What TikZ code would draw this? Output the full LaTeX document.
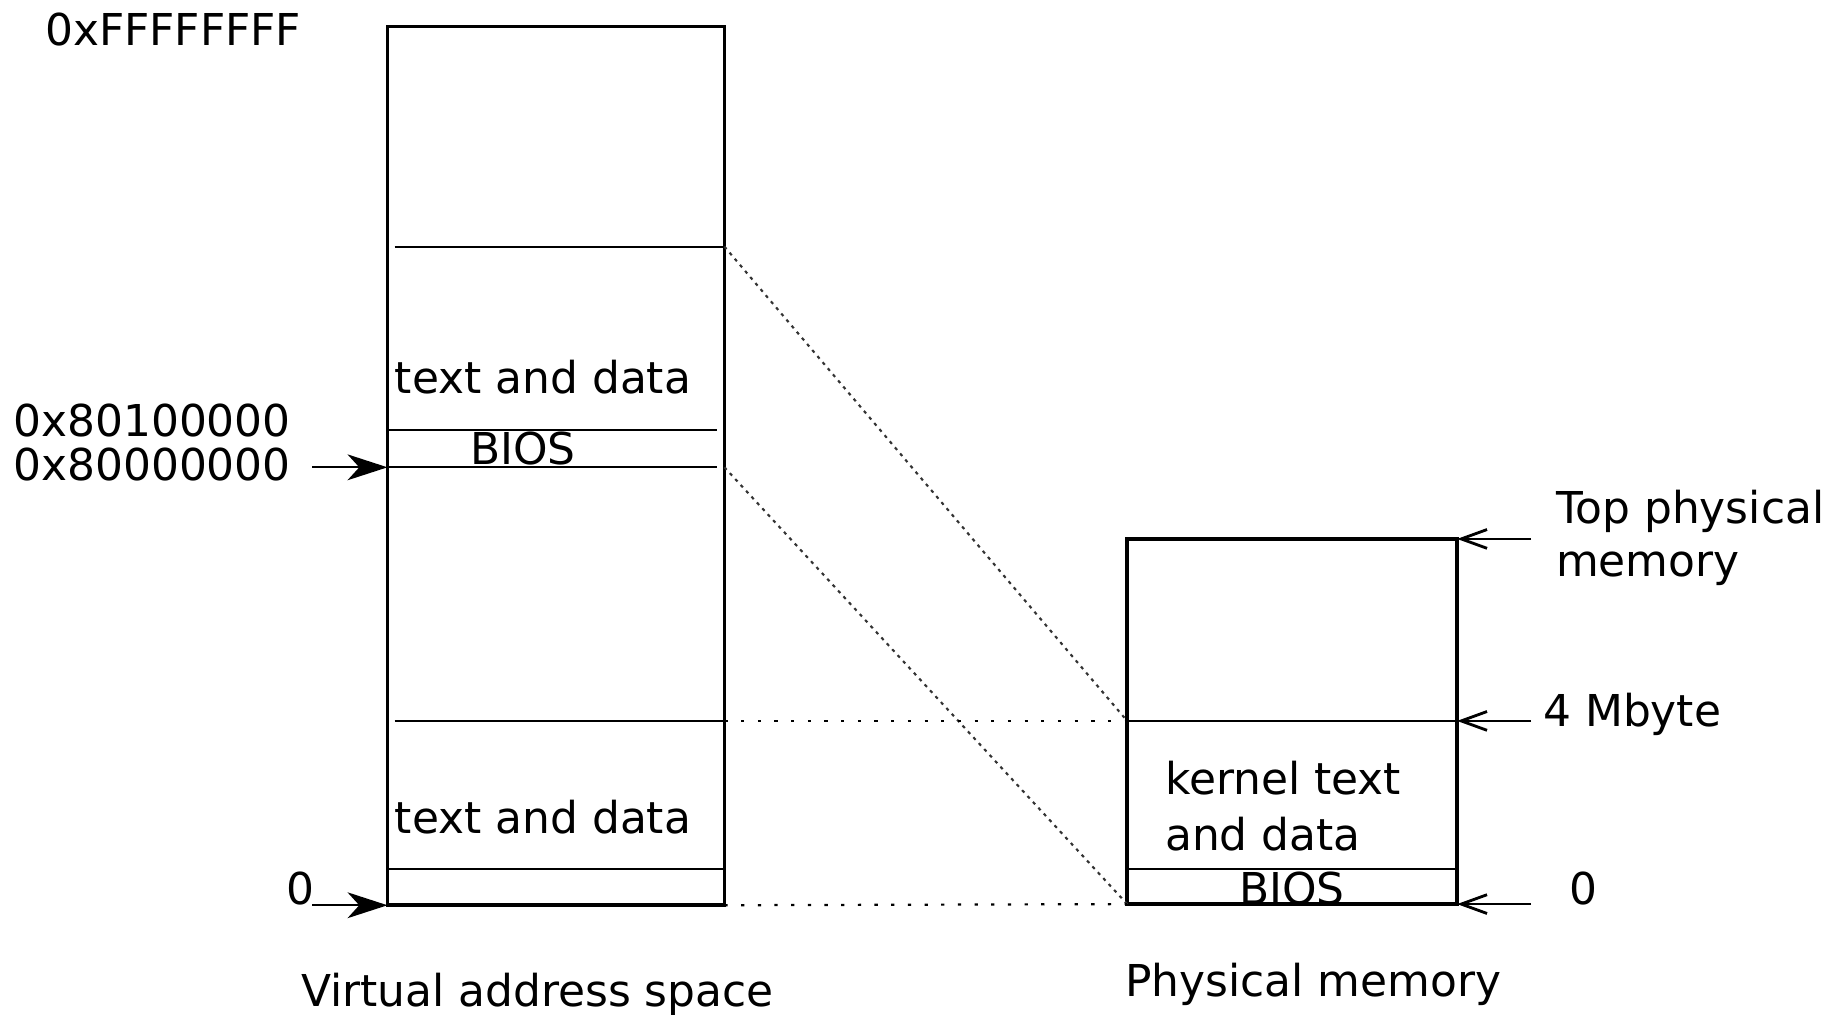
\documentclass[tikz,border=0pt]{standalone}
\usepackage{fontspec}
\setmainfont{DejaVu Sans}
\usetikzlibrary{arrows.meta}
\tikzset{
  lbl/.style={anchor=base west, inner sep=0pt, font=\fontsize{18.7}{22}\selectfont},
  boxline/.style={line width=1.5pt},
  divline/.style={line width=0.8pt},
  diagdot/.style={line width=0.9pt, dash pattern=on 1.4pt off 2pt, black!80},
  hordot/.style={line width=0.95pt, dash pattern=on 1.4pt off 5.7pt},
  fillarrow/.style={line width=0.9pt, -{Stealth[length=17pt, width=11pt, inset=5pt]}},
  openarrow/.style={line width=0.9pt, -{Straight Barb[length=11pt, width=8pt, line width=1.2pt]}}
}
\begin{document}
\begin{tikzpicture}[x=0.5pt,y=-0.5pt]
\useasboundingbox (0,0) rectangle (1568,864);

% Virtual address space box
\coordinate (vTL) at (330,22.7);
\coordinate (vBR) at (617,771);
\draw[boxline] (vTL) rectangle (vBR);
% divider lines in virtual box
\coordinate (vKtopL) at (336,210);   \coordinate (vKtopR) at (617,210);
\coordinate (v801L) at (330,366);    \coordinate (v801R) at (611,366);
\coordinate (v800L) at (330,398);    \coordinate (v800R) at (611,398);
\coordinate (vLowL) at (336,614);    \coordinate (vLowR) at (617,614);
\coordinate (vBiosL) at (330,740);   \coordinate (vBiosR) at (617,740);
\draw[divline] (vKtopL) -- (vKtopR);
\draw[divline] (v801L) -- (v801R);
\draw[divline] (v800L) -- (v800R);
\draw[divline] (vLowL) -- (vLowR);
\draw[divline] (vBiosL) -- (vBiosR);
\coordinate (v800E) at (617,398);
\coordinate (vBotR) at (617,771);

% Physical memory box
\coordinate (pTL) at (960,459);
\coordinate (pBR) at (1241,770);
\draw[boxline] (pTL) rectangle (pBR);
\coordinate (p4L) at (960,614);   \coordinate (p4R) at (1241,614);
\coordinate (pBL) at (960,740);   \coordinate (pBRl) at (1241,740);
\draw[divline] (p4L) -- (p4R);
\draw[divline] (pBL) -- (pBRl);
\coordinate (p0L) at (960,770);
\coordinate (pTopR) at (1241,459);
\coordinate (p0R) at (1241,770);

% mapping lines
\draw[diagdot] (vKtopR) -- (p4L);
\draw[diagdot] (v800E) -- (p0L);
\draw[hordot] (vLowR) -- (p4L);
\draw[hordot] (vBotR) -- (p0L);

% arrows on the left
\coordinate (a800) at (266,398);
\coordinate (a0) at (266,771);
\coordinate (v0) at (330,771);
\draw[fillarrow] (a800) -- (v800L);
\draw[fillarrow] (a0) -- (v0);

% arrows on the right
\coordinate (aTop) at (1304,459);
\coordinate (a4M) at (1304,614);
\coordinate (aP0) at (1304,770);
\draw[openarrow] (aTop) -- (pTopR);
\draw[openarrow] (a4M) -- (p4R);
\draw[openarrow] (aP0) -- (p0R);

% labels
\node[lbl] (tFF) at (38,38.5) {0xFFFFFFFF};
\node[lbl] (tTD1) at (336,335) {text and data};
\node[lbl] (t801) at (11,371.5) {0x80100000};
\node[lbl] (t800) at (11,409) {0x80000000};
\node[lbl] (tBios1) at (400,396) {BIOS};
\node[lbl] (tTD2) at (336,709.5) {text and data};
\node[lbl] (tZero1) at (244,770) {0};
\node[lbl] (tVirt) at (256,857) {Virtual address space};
\node[lbl] (tTop1) at (1325,446) {Top physical};
\node[lbl] (tTop2) at (1325,491) {memory};
\node[lbl] (t4M) at (1314,619) {4 Mbyte};
\node[lbl] (tK1) at (992,677) {kernel text};
\node[lbl] (tK2) at (992,724) {and data};
\node[lbl] (tBios2) at (1055,770) {BIOS};
\node[lbl] (tZero2) at (1336,770) {0};
\node[lbl] (tPhys) at (958,849) {Physical memory};
\end{tikzpicture}
\end{document}
